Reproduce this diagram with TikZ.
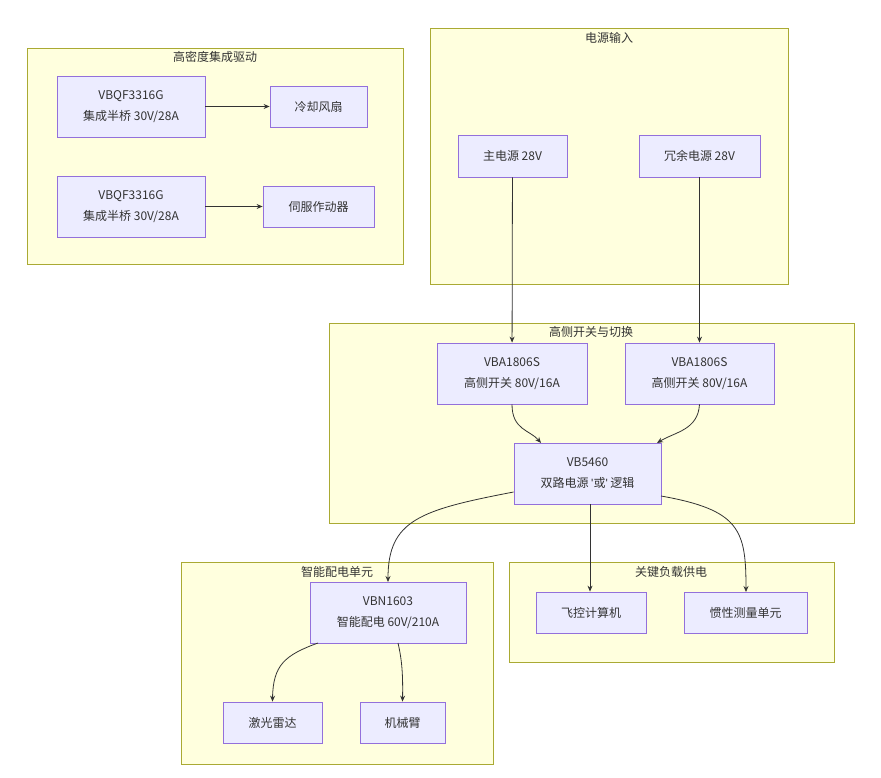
\documentclass[tikz,border=0pt]{standalone}
\usepackage{fontspec}
\setmainfont{Noto Sans CJK SC}
\newfontfamily\latinq{Liberation Sans}
\usetikzlibrary{arrows.meta}
\definecolor{clfill}{HTML}{FFFFDE}
\definecolor{cldraw}{HTML}{AAAA33}
\definecolor{ndfill}{HTML}{ECECFF}
\definecolor{nddraw}{HTML}{9370DB}
\definecolor{lnk}{HTML}{333333}
\newcommand{\sq}{{\latinq\symbol{39}}}
\tikzset{every picture/.style={line width=0.75pt}}
\tikzset{
  cluster/.style={draw=cldraw, fill=clfill, line width=0.8pt},
  cltitle/.style={font=\fontsize{12}{14}\selectfont, text=lnk, inner sep=0pt},
  box/.style={draw=nddraw, fill=ndfill, line width=0.8pt, inner sep=0pt, align=center,
    font=\fontsize{12}{21}\selectfont, text=lnk},
  link/.style={draw=lnk, line width=0.8pt, -{Stealth[length=6pt,width=5pt]}}
}
\begin{document}
\begin{tikzpicture}[x=1pt,y=1pt,yscale=-1,xscale=1]
\useasboundingbox (0,0) rectangle (881,778);
	%clusters
	\draw [cluster] (27,48) rectangle (403,264);
	\draw [cluster] (430,28) rectangle (788,284);
	\draw [cluster] (329,323) rectangle (854,523);
	\draw [cluster] (181,562) rectangle (493,764);
	\draw [cluster] (509,562) rectangle (834,662);
	\node [cltitle] (tdrv) at (215,57) {高密度集成驱动};
	\node [cltitle] (tin) at (609,38) {电源输入};
	\node [cltitle] (tsw) at (591,332) {高侧开关与切换};
	\node [cltitle] (tpdu) at (337,572) {智能配电单元};
	\node [cltitle] (tload) at (671,572) {关键负载供电};
	%nodes
	\node [box, minimum width=148, minimum height=61] (q1) at (131,106.5) {VBQF3316G\\集成半桥 30V/28A};
	\node [box, minimum width=97, minimum height=41] (fan) at (318.5,106.5) {冷却风扇};
	\node [box, minimum width=148, minimum height=61] (q2) at (131,206.5) {VBQF3316G\\集成半桥 30V/28A};
	\node [box, minimum width=111, minimum height=41] (servo) at (318.5,206.5) {伺服作动器};
	\node [box, minimum width=109, minimum height=42] (pmain) at (512.5,156) {主电源 28V};
	\node [box, minimum width=121, minimum height=42] (pred) at (699.5,156) {冗余电源 28V};
	\node [box, minimum width=150, minimum height=61] (hs1) at (512,373.5) {VBA1806S\\高侧开关 80V/16A};
	\node [box, minimum width=149, minimum height=61] (hs2) at (699.5,373.5) {VBA1806S\\高侧开关 80V/16A};
	\node [box, minimum width=147, minimum height=61] (vor) at (587.5,473.5) {VB5460\\双路电源 \sq 或\sq{} 逻辑};
	\node [box, minimum width=156, minimum height=61] (vbn) at (388,612.5) {VBN1603\\智能配电 60V/210A};
	\node [box, minimum width=110, minimum height=41] (fc) at (591,612.5) {飞控计算机};
	\node [box, minimum width=123, minimum height=41] (imu) at (745.5,612.5) {惯性测量单元};
	\node [box, minimum width=99, minimum height=41] (lidar) at (272.5,722.5) {激光雷达};
	\node [box, minimum width=85, minimum height=41] (arm) at (402.5,722.5) {机械臂};
	%links
	\draw [link] (q1) -- (fan);
	\draw [link] (q2) -- (servo);
	\draw [link] (pmain) -- (hs1);
	\draw [link] (pred) -- (hs2);
	\draw [link] (hs1.south) .. controls (512,430) and (530,430) .. (541,443);
	\draw [link] (hs2.south) .. controls (698,430) and (675,432) .. (657,443);
	\draw [link] (vor.west |- 0,492) .. controls (420,510) and (388,520) .. (388,582);
	\draw [link] (590,504) -- (fc.north -| 590,0);
	\draw [link] (661,496) .. controls (740,510) and (746,530) .. (746,592);
	\draw [link] (318,643) .. controls (285,655) and (273,665) .. (lidar.north);
	\draw [link] (398,643) .. controls (402,660) and (403,675) .. (arm.north);
\end{tikzpicture}
\end{document}
